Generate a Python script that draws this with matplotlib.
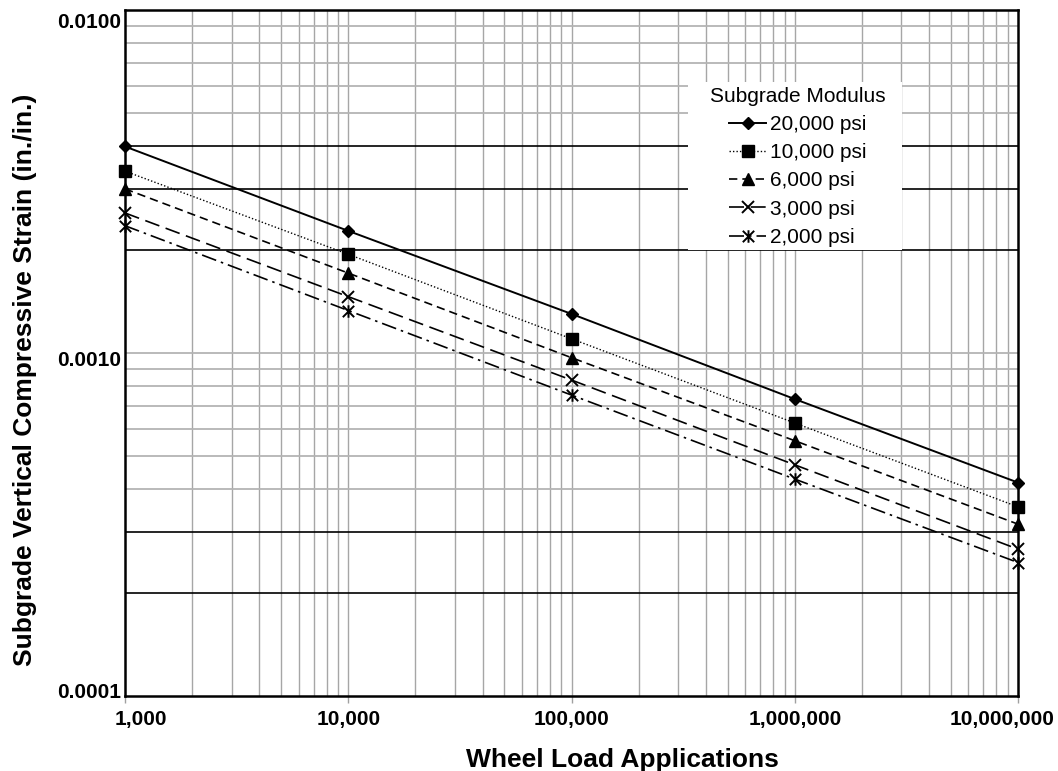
import matplotlib
matplotlib.use("Agg")
import matplotlib.pyplot as plt
import numpy as np
from matplotlib.path import Path
from matplotlib.patches import Rectangle
from matplotlib.transforms import ScaledTranslation
from matplotlib.ticker import FixedLocator, NullFormatter

plt.rcParams['font.family'] = ['Liberation Sans', 'DejaVu Sans']

# ---- data ----
loads = [1e3, 1e4, 1e5, 1e6, 1e7]
series_labels = ["20,000 psi", "10,000 psi", "6,000 psi", "3,000 psi", "2,000 psi"]
strain_20000 = [0.00400, 0.00227, 0.00130, 0.000734, 0.000419]
strain_10000 = [0.00339, 0.00194, 0.00110, 0.000625, 0.000356]
strain_6000 = [0.00301, 0.00171, 0.000969, 0.000555, 0.000317]
strain_3000 = [0.00256, 0.00146, 0.000834, 0.000472, 0.000268]
strain_2000 = [0.00235, 0.00133, 0.000754, 0.000429, 0.000245]
x_tick_values = [1e3, 1e4, 1e5, 1e6, 1e7]
x_tick_labels = ["1,000", "10,000", "100,000", "1,000,000", "10,000,000"]
y_tick_values = [0.0001, 0.001, 0.01]
y_tick_labels = ["0.0001", "0.0010", "0.0100"]
legend_title = "Subgrade Modulus"
x_title = "Wheel Load Applications"
y_title = "Subgrade Vertical Compressive Strain (in./in.)"

# asterisk marker: x plus vertical bar
star_path = Path([(-1, -1), (1, 1), (-1, 1), (1, -1), (0, -1.1), (0, 1.1)],
                 [Path.MOVETO, Path.LINETO, Path.MOVETO, Path.LINETO, Path.MOVETO, Path.LINETO])

W, H = 1058, 771
fig = plt.figure(figsize=(W / 100, H / 100), dpi=100)
L, R, T, B = 125, 1018, 10, 696
ax = fig.add_axes([L / W, 1 - B / H, (R - L) / W, (B - T) / H])
ax.set_xscale('log')
ax.set_yscale('log')
ax.set_xlim(1e3, 1e7)
ax.set_ylim(1e-4, 1e-2)

# grid lines
vx = []
for d in [1e3, 1e4, 1e5, 1e6]:
    for m in range(1, 10):
        v = d * m
        if 1e3 < v < 1e7:
            vx.append(v)
for v in vx:
    ax.axvline(v, color='#a6a6a6', lw=1.0, zorder=1)

black_h = [0.0002, 0.0003, 0.002, 0.003, 0.004]
for d in [1e-4, 1e-3]:
    for m in range(1, 10):
        v = d * m
        if 1e-4 < v < 1e-2:
            if any(abs(v - b) < 1e-9 for b in black_h):
                ax.axhline(v, color='black', lw=1.2, zorder=1)
            else:
                ax.axhline(v, color='#b4b4b4', lw=1.3, zorder=1)

kw = dict(color='black', clip_on=False, zorder=5)
ax.plot(loads, strain_20000, linestyle='-', lw=1.4, marker='D', ms=6.5, label=series_labels[0], **kw)
ax.plot(loads, strain_10000, linestyle=(0, (1, 1.5)), lw=1.0, marker='s', ms=8, label=series_labels[1], **kw)
ax.plot(loads, strain_6000, linestyle=(0, (5, 3)), lw=1.2, marker='^', ms=8, label=series_labels[2], **kw)
ax.plot(loads, strain_3000, linestyle=(0, (9, 4)), lw=1.2, marker='x', ms=8, mew=1.4, label=series_labels[3], **kw)
ax.plot(loads, strain_2000, linestyle=(0, (9, 3, 1.5, 3)), lw=1.2, marker=star_path, ms=9,
        mew=1.4, mfc='none', label=series_labels[4], **kw)

# ticks
ax.xaxis.set_major_locator(FixedLocator(x_tick_values))
ax.xaxis.set_minor_locator(FixedLocator([]))
ax.set_xticklabels(x_tick_labels)
ax.yaxis.set_major_locator(FixedLocator(y_tick_values))
ax.yaxis.set_minor_locator(FixedLocator([]))
ax.yaxis.set_minor_formatter(NullFormatter())
ax.xaxis.set_minor_formatter(NullFormatter())
ax.set_yticklabels(y_tick_labels)
ax.tick_params(axis='x', direction='out', length=5, width=1, color='#a0a0a0', pad=5,
               labelsize=15)
ax.tick_params(axis='y', length=0, pad=3, labelsize=15)
for lab in ax.get_xticklabels() + ax.get_yticklabels():
    lab.set_fontweight('bold')

xl = ax.get_xticklabels()
xl[0].set_transform(xl[0].get_transform() + ScaledTranslation(16 / 100, 0, fig.dpi_scale_trans))
xl[-1].set_transform(xl[-1].get_transform() + ScaledTranslation(-16 / 100, 0, fig.dpi_scale_trans))
yl = ax.get_yticklabels()
offs = [6, -5, -10]
for lab, o in zip(yl, offs):
    lab.set_transform(lab.get_transform() + ScaledTranslation(0, o / 100, fig.dpi_scale_trans))

for s in ax.spines.values():
    s.set_linewidth(1.8)
    s.set_color('black')
    s.set_zorder(4)

ax.set_xlabel(x_title, fontsize=19, fontweight='bold', va='center', ha='center')
ax.xaxis.set_label_coords((622 - L) / (R - L), (B - 760) / (B - T))
ax.set_ylabel(y_title, fontsize=19, fontweight='bold', va='center', ha='center')
ax.yaxis.set_label_coords((25 - L) / (R - L), (B - 380) / (B - T))

# white legend background box
ax.add_patch(Rectangle((688 / W, 1 - 250 / H), (902 - 688) / W, (250 - 82) / H,
                       transform=fig.transFigure, facecolor='white', edgecolor='none',
                       zorder=3, clip_on=False))

leg = ax.legend(title=legend_title, loc='upper center',
                bbox_to_anchor=((798 - L) / (R - L), (B - 87) / (B - T)),
                borderaxespad=0, fontsize=15, title_fontsize=15, frameon=False,
                handlelength=1.75, handletextpad=0.2, labelspacing=0.44,
                borderpad=0.0, markerscale=1.0)
leg.set_zorder(6)

fig.savefig("out.png", dpi=100)
